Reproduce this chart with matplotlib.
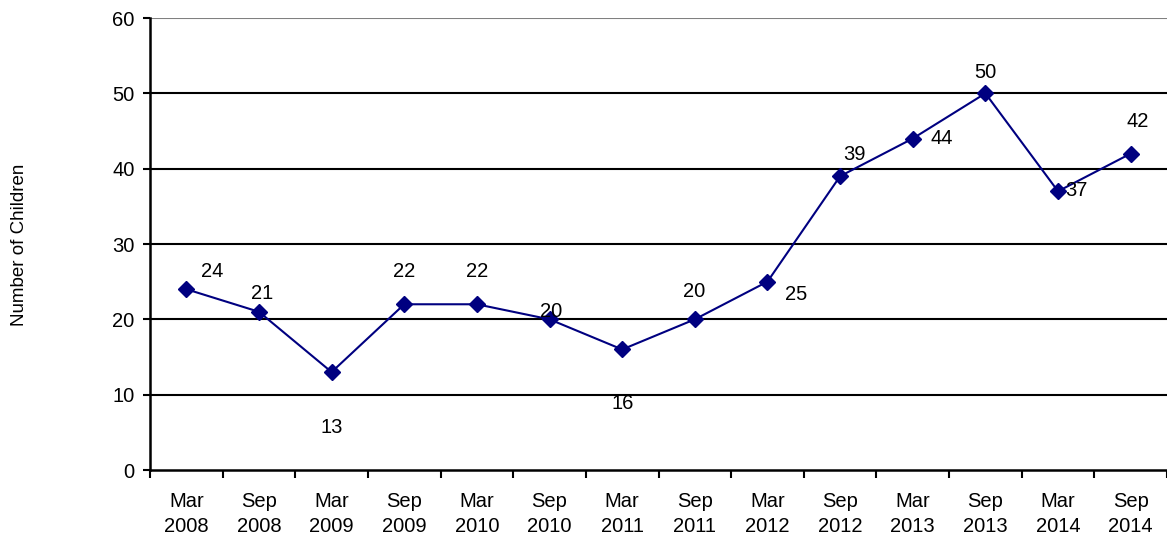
import matplotlib

matplotlib.use("Agg")
import matplotlib.pyplot as plt
import numpy as np

plt.rcParams["font.family"] = ["Liberation Sans", "DejaVu Sans"]

periods = ["Mar\n2008", "Sep\n2008", "Mar\n2009", "Sep\n2009", "Mar\n2010",
           "Sep\n2010", "Mar\n2011", "Sep\n2011", "Mar\n2012", "Sep\n2012",
           "Mar\n2013", "Sep\n2013", "Mar\n2014", "Sep\n2014"]
children = [24, 21, 13, 22, 22, 20, 16, 20, 25, 39, 44, 50, 37, 42]
# label offsets in pixels (dx, dy) relative to each point, as placed in the source
label_offsets = [(26, 18), (3, 18), (0, -55), (0, 33), (0, 33), (2, 8), (1, -54),
                 (-1, 28), (29, -13), (14, 22), (29, 0), (0, 21), (18, 1), (7, 32)]

FS = 14.5

fig = plt.figure(figsize=(11.67, 5.4), dpi=100)
ax = fig.add_axes([150 / 1167, 70 / 540, 1017 / 1167, 452 / 540])

x = np.arange(len(children))
ax.plot(x, children, color="#000080", linewidth=1.5, marker="D", markersize=8.5,
        markerfacecolor="#000080", markeredgecolor="#000080", zorder=3)

for xi, v, (dx, dy) in zip(x, children, label_offsets):
    ax.annotate(str(v), (xi, v), xytext=(dx, dy), textcoords="offset pixels",
                ha="center", va="center", fontsize=FS, color="black")

ax.set_xlim(-0.5, len(children) - 0.5)
ax.set_ylim(0, 60)
ax.set_yticks(range(0, 61, 10))
ax.tick_params(axis="y", labelsize=FS, length=5, width=1.5, pad=6)

ax.set_xticks(x)
ax.set_xticklabels(periods, fontsize=FS, linespacing=1.45)
ax.set_xticks(np.arange(-0.5, len(children), 1), minor=True)
ax.tick_params(axis="x", which="major", length=0, pad=15.5)
ax.tick_params(axis="x", which="minor", length=6, width=1.5)

for yv in range(10, 61, 10):
    ax.axhline(yv, color="#808080" if yv == 60 else "black", linewidth=1.5, zorder=1)

for side in ["top", "right"]:
    ax.spines[side].set_visible(False)
for side in ["left", "bottom"]:
    ax.spines[side].set_linewidth(1.8)
    ax.spines[side].set_color("black")

fig.text(20 / 1167, 1 - 245 / 540, "Number of Children", rotation=90,
         ha="center", va="center", fontsize=13.5)

fig.savefig("out.png", dpi=100)
